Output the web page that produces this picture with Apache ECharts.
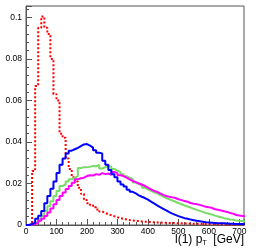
<!DOCTYPE html>
<html><head><meta charset="utf-8">
<script src="https://cdn.jsdelivr.net/npm/echarts@6/dist/echarts.min.js"></script>
<style>html,body{margin:0;padding:0;background:#fff}#c{width:270px;height:252px}</style>
</head><body><div id="c"></div>
<script>
// 10 GeV bins starting at 0
const binWidth = 10;
const xTicks = [0,100,200,300,400,500,600,700];
const yTicks = [0,0.02,0.04,0.06,0.08,0.1];
const red = [0,0,0.026,0.067,0.095,0.1005,0.095,0.092,0.080,0.063,0.060,0.044,0.042,0.032,0.027,0.023,0.021,0.018,0.015,0.012,
0.0105,0.0095,0.0085,0.0075,0.0065,0.0058,0.0052,0.0047,0.0042,0.0037,0.0033,0.003,0.0027,0.0024,0.0022,0.002,0.0019,0.0017,0.0016,0.0015,
0.0014,0.0013,0.0012,0.0012,0.0011,0.0011,0.001,0.001,0.0009,0.0009,0.0008,0.0008,0.0007,0.0007,0.0006,0.0006,0.0006,0.0005,0.0005,0.0005,
0.0004,0.0004,0.0004,0.0004,0.0003,0.0003,0.0003,0.0003,0.0003,0.0002,0.0002,0.0002];
const blue = [0,0.0005,0.001,0.003,0.0045,0.0068,0.0105,0.014,0.0175,0.021,0.025,0.029,0.032,0.0345,0.0358,0.0365,0.0372,0.038,0.0388,0.039,
0.0382,0.0373,0.036,0.0348,0.0345,0.031,0.029,0.0265,0.0245,0.023,0.021,0.0195,0.0185,0.017,0.016,0.0152,0.0143,0.0136,0.013,0.0122,
0.0113,0.0104,0.0095,0.0086,0.0078,0.007,0.0062,0.0055,0.0049,0.0043,0.0038,0.0033,0.003,0.0026,0.0023,0.002,0.0018,0.0016,0.0013,0.0012,
0.0011,0.001,0.0009,0.0008,0.0008,0.0007,0.0006,0.0006,0.0005,0.0005,0.0005,0.0004];
const green = [0,0.0003,0.0008,0.0015,0.0025,0.0043,0.0067,0.009,0.0115,0.014,0.0164,0.0188,0.0195,0.021,0.022,0.0228,0.0235,0.0275,0.0278,0.0278,
0.028,0.0285,0.0282,0.029,0.0272,0.0278,0.0285,0.028,0.027,0.0262,0.0255,0.0245,0.0235,0.0228,0.0222,0.0205,0.0198,0.019,0.018,0.0172,
0.0165,0.0158,0.0152,0.0144,0.0137,0.013,0.0124,0.0118,0.0112,0.0106,0.01,0.0094,0.0089,0.0084,0.0078,0.0073,0.0068,0.0063,0.0058,0.0054,
0.005,0.0045,0.0041,0.0037,0.0033,0.003,0.0027,0.0025,0.0022,0.002,0.0019,0.0018];
const magenta = [0,0.0002,0.0005,0.001,0.002,0.003,0.0043,0.006,0.0079,0.010,0.012,0.014,0.0156,0.0173,0.0188,0.0204,0.022,0.0225,0.0228,0.0236,
0.024,0.0238,0.0245,0.0242,0.025,0.0245,0.0248,0.0242,0.0255,0.025,0.024,0.0236,0.0228,0.022,0.0212,0.0207,0.02,0.0195,0.0188,0.018,
0.0172,0.0164,0.016,0.0152,0.0145,0.014,0.0136,0.0133,0.013,0.0124,0.012,0.0116,0.0112,0.0106,0.0102,0.01,0.0097,0.0092,0.0088,0.0086,
0.0082,0.0076,0.0073,0.007,0.0066,0.0063,0.0058,0.0054,0.0048,0.0046,0.0043,0.0042];

function steps(vals){
  const d = vals.map((v,i)=>[i*binWidth, v]);
  d.push([vals.length*binWidth, vals[vals.length-1]]);
  return d;
}
const frame = '#555';
const chart = echarts.init(document.getElementById('c'), null, {renderer:'canvas'});
function ser(name, vals, color, type){
  return {name, type:'line', step:'end', data:steps(vals), symbol:'none', animation:false,
    lineStyle:{color, width:2, type:type||'solid'}, clip:true};
}
chart.setOption({
  animation:false,
  grid:{left:26, top:6, right:26, bottom:27, show:true, borderColor:frame, borderWidth:1, backgroundColor:'transparent'},
  xAxis:{type:'value', min:0, max:715, interval:100,
    axisLine:{lineStyle:{color:frame}},
    axisTick:{inside:true, length:6, lineStyle:{color:frame}},
    minorTick:{show:true, splitNumber:5, length:3, lineStyle:{color:frame}},
    splitLine:{show:false},
    axisLabel:{color:'#000', fontSize:8.5, fontFamily:'Liberation Sans, Arial', margin:2,
      formatter:v=> xTicks.includes(v) ? String(v) : '', showMaxLabel:false}
  },
  yAxis:{type:'value', min:0, max:0.1055, interval:0.02,
    axisLine:{lineStyle:{color:frame}},
    axisTick:{inside:true, length:6, lineStyle:{color:frame}},
    minorTick:{show:true, splitNumber:5, length:3, lineStyle:{color:frame}},
    splitLine:{show:false},
    axisLabel:{color:'#000', fontSize:8.5, fontFamily:'Liberation Sans, Arial', margin:4,
      formatter:v=>{const t=yTicks.find(u=>Math.abs(u-v)<1e-9); return t===undefined?'':String(+t.toFixed(2));}, showMaxLabel:false}
  },
  graphic:[{type:'text', right:26, top:234,
    style:{text:'{a|l(1) p}{s|T}{a|  [GeV]}', rich:{
      a:{fontSize:12, fontFamily:'Liberation Sans, Arial', fill:'#000'},
      s:{fontSize:7, fontFamily:'Liberation Sans, Arial', fill:'#000', padding:[6,0,0,0]}}}}],
  series:[
    ser('red', red, '#ff0000', [2,2]),
    ser('green', green, '#77dd66'),
    ser('magenta', magenta, '#ff00ff'),
    ser('blue', blue, '#0000ff')
  ]
});
</script></body></html>
